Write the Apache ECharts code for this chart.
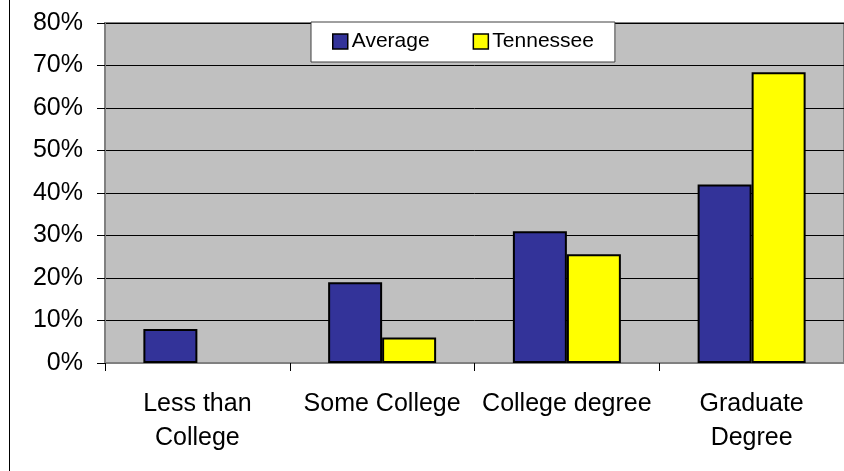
<!DOCTYPE html>
<html>
<head>
<meta charset="utf-8">
<script src="https://cdn.jsdelivr.net/npm/echarts@6/dist/echarts.min.js"></script>
<style>
html,body{margin:0;padding:0;background:#fff;}
#frame{position:absolute;left:9px;top:0;width:1px;height:471px;background:#000;}
#chart{position:absolute;left:0;top:0;width:844px;height:471px;}
</style>
</head>
<body>
<div id="chart"></div>
<div id="frame"></div>
<script>
const categories = ['Less than\nCollege', 'Some College', 'College degree', 'Graduate\nDegree'];
const seriesNames = ['Average', 'Tennessee'];
const averageValues = [8, 19, 31, 42];
const tennesseeValues = [null, 6, 25.6, 68.4];
const yTicks = { min: 0, max: 80, interval: 10 };

const FONT = '"Liberation Sans", Arial, sans-serif';
const chart = echarts.init(document.getElementById('chart'), null, { renderer: 'canvas' });
chart.setOption({
  animation: false,
  backgroundColor: 'transparent',
  textStyle: { fontFamily: FONT, color: '#000' },
  grid: {
    left: 105, right: 0, top: 23, bottom: 108,
    show: true, backgroundColor: '#C0C0C0', borderColor: '#808080', borderWidth: 2
  },
  legend: {
    data: seriesNames,
    left: 311, top: 22,
    padding: [9, 21, 10, 21],
    backgroundColor: '#fff',
    borderColor: '#404040', borderWidth: 1,
    itemWidth: 15, itemHeight: 15, itemGap: 43,
    icon: 'rect',
    itemStyle: { borderColor: '#000', borderWidth: 1.5 },
    textStyle: { fontFamily: FONT, fontSize: 21, color: '#000', padding: [0, 0, 0, -1] }
  },
  xAxis: {
    type: 'category',
    data: categories,
    boundaryGap: true,
    axisLine: { show: true, lineStyle: { color: '#808080', width: 2 } },
    axisTick: { show: true, length: 8, alignWithLabel: false, lineStyle: { color: '#000', width: 1 } },
    axisLabel: { interval: 0, margin: 24, fontSize: 25, lineHeight: 34, color: '#000', fontFamily: FONT }
  },
  yAxis: {
    type: 'value',
    min: yTicks.min, max: yTicks.max, interval: yTicks.interval,
    axisLine: { show: true, lineStyle: { color: '#808080', width: 2 } },
    axisTick: { show: true, inside: false, length: 8, lineStyle: { color: '#000', width: 1 } },
    axisLabel: { formatter: '{value}%', margin: 22, fontSize: 25, color: '#000', fontFamily: FONT },
    splitLine: { show: true, lineStyle: { color: '#000', width: 1 } }
  },
  series: [
    {
      name: seriesNames[0], type: 'bar', data: averageValues,
      barWidth: 54, barGap: '0%',
      itemStyle: { color: '#333399', borderColor: '#000', borderWidth: 2 }
    },
    {
      name: seriesNames[1], type: 'bar', data: tennesseeValues,
      barWidth: 54, barGap: '0%',
      itemStyle: { color: '#FFFF00', borderColor: '#000', borderWidth: 2 }
    }
  ]
});
</script>
</body>
</html>
